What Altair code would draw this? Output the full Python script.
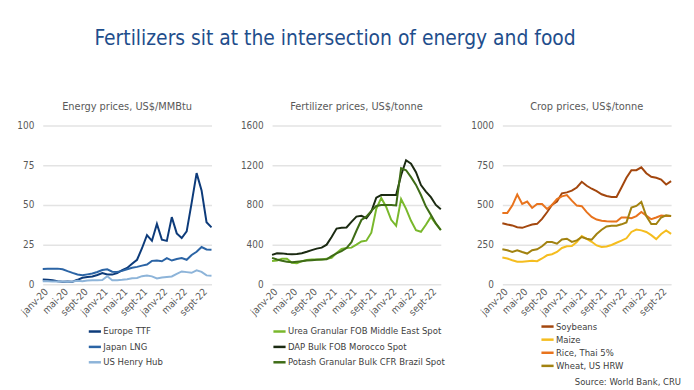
import altair as alt
import pandas as pd

FONT = "'DejaVu Sans Condensed', Lato, sans-serif"

fr = ["janv", "févr", "mars", "avr", "mai", "juin", "juil", "août", "sept", "oct", "nov", "déc"]
months = [f"{fr[m]}-{y}" for y in (20, 21, 22) for m in range(12)][:35]
tick_months = months[::4]

# Energy prices, US$/MMBtu
energy_names = ["Europe TTF", "Japan LNG", "US Henry Hub"]
europe_ttf = [3.07, 2.86, 2.60, 1.91, 1.58, 1.75, 1.72, 2.87, 4.14, 4.61, 4.92, 5.89,
              7.16, 6.17, 6.14, 7.06, 8.90, 10.30, 12.93, 15.49, 22.75, 31.05, 27.44, 38.04,
              28.18, 27.40, 42.34, 32.12, 29.17, 33.31, 51.29, 70.04, 59.12, 39.11, 35.87]
japan_lng = [9.7, 9.8, 9.9, 9.9, 9.5, 8.3, 7.2, 6.2, 5.8, 6.3, 6.8, 7.8,
             9.0, 9.5, 8.0, 7.8, 8.5, 9.5, 10.5, 11.0, 11.8, 12.5, 14.8, 15.0,
             14.5, 16.5, 15.0, 16.0, 16.6, 15.5, 18.5, 20.5, 23.5, 22.0, 21.8]
us_henry_hub = [2.02, 1.91, 1.79, 1.74, 1.75, 1.63, 1.77, 2.30, 1.92, 2.39, 2.61, 2.59,
                2.67, 5.06, 2.62, 2.66, 2.91, 3.26, 3.84, 4.07, 5.16, 5.51, 5.05, 3.76,
                4.38, 4.69, 4.96, 6.60, 8.14, 7.70, 7.28, 8.81, 7.88, 5.66, 5.45]
energy_colors = ["#0d3b7a", "#2b64a5", "#8db4d9"]

# Fertilizer prices, US$/tonne
fert_names = ["Urea Granular FOB Middle East Spot", "DAP Bulk FOB Morocco Spot",
              "Potash Granular Bulk CFR Brazil Spot"]
urea = [235, 240, 257, 257, 218, 212, 234, 245, 251, 250, 250, 258,
        267, 317, 356, 366, 370, 400, 432, 440, 520, 760, 870, 780,
        650, 590, 860, 760, 640, 545, 530, 600, 680, 610, 550]
dap = [297, 313, 312, 305, 303, 307, 313, 328, 345, 360, 370, 400,
       478, 562, 570, 573, 630, 683, 690, 667, 733, 873, 900, 900,
       900, 900, 1100, 1250, 1215, 1130, 1000, 935, 878, 800, 756]
potash = [267, 250, 238, 228, 222, 227, 233, 240, 243, 247, 250, 252,
          284, 312, 335, 366, 425, 540, 648, 682, 740, 790, 800, 800,
          800, 795, 1170, 1150, 1080, 1002, 900, 783, 700, 614, 547]
fert_colors = ["#79b82c", "#1b2a12", "#3e6c16"]

# Crop prices, US$/tonne
crop_names = ["Soybeans", "Maize", "Rice, Thai 5%", "Wheat, US HRW"]
soybeans = [385, 377, 371, 360, 356, 367, 377, 381, 412, 454, 500, 521,
            573, 579, 590, 610, 646, 621, 602, 587, 567, 556, 550, 550,
            610, 671, 719, 719, 737, 700, 677, 671, 660, 629, 650]
maize = [169, 163, 152, 142, 142, 146, 148, 146, 163, 183, 190, 204,
         229, 240, 242, 267, 304, 287, 268, 245, 235, 238, 248, 262,
         275, 290, 330, 345, 340, 330, 310, 285, 317, 340, 318]
rice = [450, 450, 496, 565, 506, 521, 481, 506, 506, 475, 500, 537,
        554, 562, 527, 496, 492, 455, 425, 408, 400, 397, 396, 396,
        421, 421, 417, 430, 456, 433, 410, 421, 433, 431, 431]
wheat = [221, 215, 204, 215, 204, 194, 215, 221, 240, 267, 267, 256,
         283, 287, 267, 277, 298, 287, 281, 317, 344, 365, 369, 369,
         378, 390, 483, 494, 519, 430, 380, 380, 421, 435, 431]
crop_colors = ["#a3470e", "#f5bd1f", "#e8731d", "#a28210"]

source_text = ["Source: World Bank, CRU"]


def panel(title, names, series, colors, ymax, ystep, legend_x, legend_y, row_pad):
    rows = []
    for n, vals in zip(names, series):
        for m, v in zip(months, vals):
            rows.append({"month": m, "series": n, "value": v})
    df = pd.DataFrame(rows)
    return alt.Chart(df).mark_line(strokeWidth=2).encode(
        x=alt.X("month:O", sort=months, scale=alt.Scale(type="point", padding=0),
                axis=alt.Axis(values=tick_months, labelAngle=-45, title=None,
                              labelAlign="right", labelBaseline="top", labelPadding=2,
                              grid=False, domain=False, ticks=False)),
        y=alt.Y("value:Q", scale=alt.Scale(domain=[0, ymax], nice=False),
                axis=alt.Axis(values=list(range(0, ymax + 1, ystep)), title=None,
                              format="d", domain=False, ticks=False, labelPadding=9,
                              minExtent=32, maxExtent=32,
                              gridColor="#e3e3e3", gridWidth=1.5)),
        color=alt.Color("series:N", sort=names,
                        scale=alt.Scale(domain=names, range=colors),
                        legend=alt.Legend(title=None, orient="none", legendX=legend_x,
                                          legendY=legend_y, direction="vertical",
                                          symbolType="stroke", symbolSize=150,
                                          symbolStrokeWidth=2.5, labelFontSize=9.5,
                                          labelFont=FONT, labelColor="#404040",
                                          labelLimit=300,
                                          rowPadding=row_pad, labelOffset=1,
                                          padding=0)),
    ).properties(width=170, height=160,
                 title=alt.TitleParams(title, fontSize=11, font=FONT, color="#595959",
                                       fontWeight="normal", offset=9))


p1 = panel("Energy prices, US$/MMBtu", energy_names, [europe_ttf, japan_lng, us_henry_hub],
           energy_colors, 100, 25, 45, 200, 2.5)
p2 = panel("Fertilizer prices, US$/tonne", fert_names, [urea, dap, potash],
           fert_colors, 1600, 400, 0, 200, 2.5)
p3_lines = panel("Crop prices, US$/tonne", crop_names, [soybeans, maize, rice, wheat],
                 crop_colors, 1000, 250, 38, 195, 0.2)
src = alt.Chart(pd.DataFrame({"t": source_text})).mark_text(
    align="right", baseline="middle", fontSize=9.5, font=FONT, color="#404040"
).encode(x=alt.value(180), y=alt.value(258), text="t:N")
p3 = alt.layer(p3_lines, src)

chart = alt.hconcat(p1, p2, p3, spacing=25).resolve_scale(
    color="independent", y="independent"
).resolve_legend(color="independent").properties(
    title=alt.TitleParams("Fertilizers sit at the intersection of energy and food",
                          anchor="middle", fontSize=21, font=FONT, color="#1f4e8c",
                          fontWeight="normal", offset=52, dx=-11),
    padding={"left": 3, "top": 19, "right": 5, "bottom": 0},
).configure_view(stroke=None).configure_axis(
    labelFont=FONT, labelFontSize=10, labelColor="#595959"
)

chart.save("out.html", embed_options={"renderer": "svg", "actions": False})
